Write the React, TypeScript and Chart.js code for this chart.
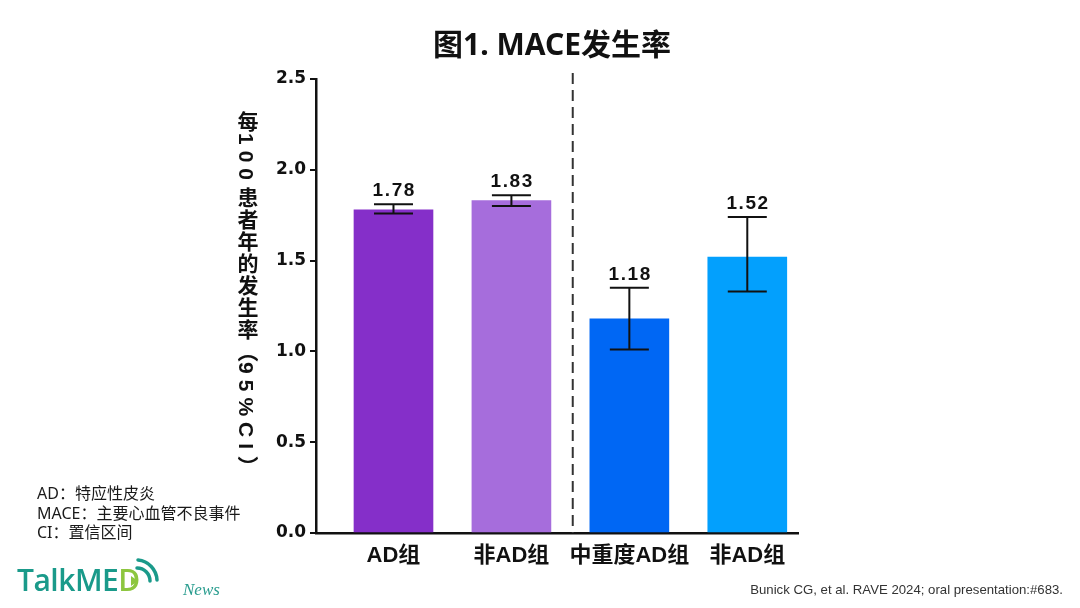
import React, { useEffect, useRef } from "react";
import { Chart, registerables } from "chart.js";

Chart.register(...registerables);

// ---- data ----
const categories = ["AD组", "非AD组", "中重度AD组", "非AD组"];
const rates = [1.78, 1.83, 1.18, 1.52];
const ciLower = [1.76, 1.8, 1.01, 1.33];
const ciUpper = [1.81, 1.86, 1.35, 1.74];
const barColors = ["#852FC9", "#A66DDC", "#0067F4", "#03A0FD"];
const yTickStep = 0.5;
const yMax = 2.5;

// divider between the two groups, in category units
const dividerAt = 1.52;

const LATIN_CJK = '"Liberation Sans", "Noto Sans CJK SC", sans-serif';
const TEXT_CJK = '"Noto Sans", "Noto Sans CJK SC", sans-serif';

const overlayPlugin = {
  id: "overlay",
  afterDatasetsDraw(chart: any) {
    const { ctx, chartArea } = chart;
    const x = chart.scales.x;
    const y = chart.scales.y;
    ctx.save();
    rates.forEach((v, i) => {
      const cx = x.getPixelForValue(i);
      const yl = y.getPixelForValue(ciLower[i]);
      const yu = y.getPixelForValue(ciUpper[i]);
      const half = 19.5;
      ctx.strokeStyle = "#111";
      ctx.lineWidth = 2;
      ctx.beginPath();
      ctx.moveTo(cx, yl);
      ctx.lineTo(cx, yu);
      ctx.moveTo(cx - half, yl);
      ctx.lineTo(cx + half, yl);
      ctx.moveTo(cx - half, yu);
      ctx.lineTo(cx + half, yu);
      ctx.stroke();
      ctx.fillStyle = "#111";
      ctx.font = 'bold 19px "Liberation Sans"';
      ctx.textAlign = "center";
      ctx.textBaseline = "alphabetic";
      ctx.fillText(v.toFixed(2).split("").join(String.fromCharCode(8202)), cx, yu - 8);
    });
    const dx = x.getPixelForValue(dividerAt);
    ctx.setLineDash([11, 6]);
    ctx.lineWidth = 2;
    ctx.strokeStyle = "#333";
    ctx.beginPath();
    ctx.moveTo(dx, chartArea.top - 6);
    ctx.lineTo(dx, chartArea.bottom);
    ctx.stroke();
    ctx.restore();
  },
};

export default function App() {
  const canvasRef = useRef<HTMLCanvasElement | null>(null);

  useEffect(() => {
    if (!canvasRef.current) return;
    const chart = new Chart(canvasRef.current, {
      type: "bar",
      data: {
        datasets: [
          {
            data: rates.map((v, i) => ({ x: i, y: v })),
            backgroundColor: barColors,
            borderWidth: 0,
            barThickness: 79,
          } as any,
        ],
      },
      options: {
        animation: false,
        responsive: false,
        layout: { padding: { left: 200, top: 79, right: 282, bottom: 35 } },
        plugins: {
          legend: { display: false },
          tooltip: { enabled: false },
        },
        scales: {
          x: {
            type: "linear",
            min: -0.657,
            max: 3.43,
            offset: false,
            z: 1,
            grid: { display: false, drawTicks: false },
            border: { display: true, color: "#111", width: 2.5 },
            afterBuildTicks: (s: any) => {
              s.ticks = categories.map((_, i) => ({ value: i }));
            },
            afterFit: (s: any) => {
              s.height = 40;
            },
            ticks: {
              autoSkip: false,
              maxRotation: 0,
              minRotation: 0,
              padding: 10,
              color: "#111",
              font: { family: LATIN_CJK, size: 22, weight: "bold" },
              callback: (v: any) => categories[Number(v)] ?? "",
            },
          },
          y: {
            type: "linear",
            min: 0,
            max: yMax,
            grid: {
              display: true,
              drawOnChartArea: false,
              drawTicks: true,
              tickLength: 6,
              color: "#111",
              lineWidth: 2,
            },
            border: { display: true, color: "#111", width: 2.5 },
            afterFit: (s: any) => {
              s.width = 116;
            },
            ticks: {
              stepSize: yTickStep,
              padding: 4,
              color: "#111",
              font: { family: '"DejaVu Sans"', size: 17, weight: "bold" },
              callback: (v: any) => Number(v).toFixed(1),
            },
          },
        },
      } as any,
      plugins: [overlayPlugin],
    });
    return () => chart.destroy();
  }, []);

  const latinSpace = { letterSpacing: "6px" };

  return (
    <div
      style={{
        position: "absolute",
        left: 0,
        top: 0,
        width: 1080,
        height: 608,
        overflow: "hidden",
        background: "#fff",
        fontFamily: TEXT_CJK,
      }}
    >
      <canvas
        ref={canvasRef}
        width={1080}
        height={608}
        style={{ position: "absolute", left: 0, top: 0, width: 1080, height: 608 }}
      />
      <div
        style={{
          position: "absolute",
          left: 0,
          top: 24,
          width: 1104,
          height: 40,
          lineHeight: "40px",
          textAlign: "center",
          fontSize: 30,
          fontWeight: 700,
          color: "#111",
          whiteSpace: "nowrap",
        }}
      >
        图1. MACE发生率
      </div>
      <div
        style={{
          position: "absolute",
          left: 234,
          top: 111,
          writingMode: "vertical-rl",
          fontFamily: LATIN_CJK,
          fontSize: 21,
          fontWeight: 700,
          lineHeight: "24px",
          letterSpacing: "1px",
          color: "#111",
          whiteSpace: "nowrap",
        }}
      >
        每<span style={latinSpace}>100</span>患者年的发生率（<span style={latinSpace}>95%CI</span>）
      </div>
      <div
        style={{
          position: "absolute",
          left: 37,
          top: 484,
          fontSize: 16,
          lineHeight: "19.5px",
          color: "#1a1a1a",
          whiteSpace: "nowrap",
        }}
      >
        <div>AD：特应性皮炎</div>
        <div>MACE：主要心血管不良事件</div>
        <div>CI：置信区间</div>
      </div>
      <div
        style={{
          position: "absolute",
          left: 17,
          top: 565,
          fontFamily: '"Open Sans", sans-serif',
          fontWeight: 600,
          fontSize: 30,
          lineHeight: "30px",
          letterSpacing: "-0.5px",
          color: "#1A9A8A",
          whiteSpace: "nowrap",
        }}
      >
        TalkME<span style={{ color: "#8DC63F" }}>D</span>
      </div>
      <svg
        width={40}
        height={40}
        style={{ position: "absolute", left: 125, top: 552 }}
        viewBox="0 0 40 40"
      >
        <path d="M 12 16 A 13 13 0 0 1 25 29" fill="none" stroke="#1A9A8A" strokeWidth={3.5} strokeLinecap="round" />
        <path d="M 13 8 A 21 21 0 0 1 32 28" fill="none" stroke="#1A9A8A" strokeWidth={3.5} strokeLinecap="round" />
        <polygon points="6,24 6,34 13,29" fill="#8DC63F" />
      </svg>
      <div
        style={{
          position: "absolute",
          left: 183,
          top: 580,
          fontFamily: '"Liberation Serif", serif',
          fontStyle: "italic",
          fontSize: 17,
          lineHeight: "20px",
          color: "#2A9D8F",
        }}
      >
        News
      </div>
      <div
        style={{
          position: "absolute",
          right: 17,
          top: 582,
          fontFamily: '"Liberation Sans", sans-serif',
          fontSize: 13.2,
          lineHeight: "16px",
          color: "#333",
          whiteSpace: "nowrap",
        }}
      >
        Bunick CG, et al. RAVE 2024; oral presentation:#683.
      </div>
    </div>
  );
}
